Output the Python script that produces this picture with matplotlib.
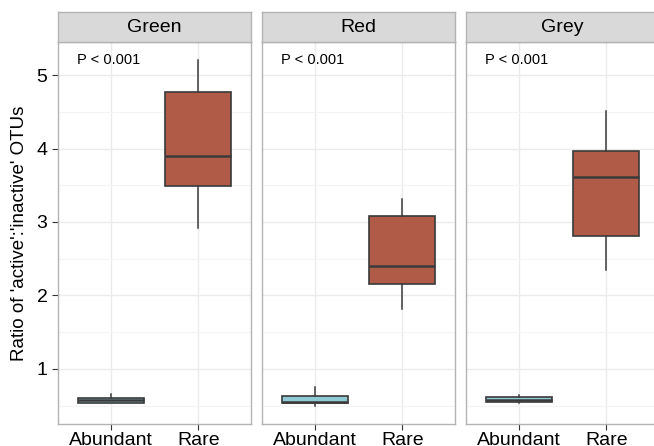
import matplotlib
matplotlib.use('Agg')
import matplotlib.pyplot as plt
from matplotlib.ticker import MultipleLocator

plt.rcParams['font.family'] = ['Liberation Sans', 'DejaVu Sans']

# 每个面板的箱线统计: (whislo, q1, med, q3, whishi)
panels = ["Green", "Red", "Grey"]
groups = ["Abundant", "Rare"]
green_stats = [(0.53, 0.54, 0.57, 0.60, 0.66), (2.92, 3.49, 3.90, 4.77, 5.21)]
red_stats = [(0.50, 0.53, 0.55, 0.63, 0.76), (1.82, 2.15, 2.40, 3.08, 3.31)]
grey_stats = [(0.54, 0.55, 0.57, 0.62, 0.65), (2.35, 2.81, 3.61, 3.96, 4.51)]
p_label = "P < 0.001"

fill_colors = ["#8FC9D3", "#B05B47"]
edge_color = "#3A3A3A"

fig = plt.figure(figsize=(6.54, 4.46), dpi=100)
W, H = 654, 446
lefts = [58, 262, 466]
width = 193
bottom, top = 424, 42
strip_h = 30

for i, (name, stats) in enumerate(zip(panels, [green_stats, red_stats, grey_stats])):
    ax = fig.add_axes([lefts[i] / W, 1 - bottom / H, width / W, (bottom - top) / H])
    bxp = []
    for g, s in zip(groups, stats):
        bxp.append({"whislo": s[0], "q1": s[1], "med": s[2], "q3": s[3],
                    "whishi": s[4], "fliers": [], "label": g})
    bp = ax.bxp(bxp, positions=[1, 2], widths=0.75, patch_artist=True,
                showcaps=False, zorder=3,
                boxprops=dict(edgecolor=edge_color, linewidth=1.2),
                medianprops=dict(color=edge_color, linewidth=1.8),
                whiskerprops=dict(color=edge_color, linewidth=1.1))
    for patch, c in zip(bp["boxes"], fill_colors):
        patch.set_facecolor(c)

    ax.set_xlim(0.4, 2.6)
    ax.set_ylim(0.25, 5.45)
    ax.yaxis.set_major_locator(MultipleLocator(1))
    ax.yaxis.set_minor_locator(MultipleLocator(0.5))
    ax.grid(True, which="major", color="#EBEBEB", linewidth=1.0, zorder=0)
    ax.grid(True, which="minor", axis="y", color="#F4F4F4", linewidth=0.8, zorder=0)
    ax.set_axisbelow(True)
    for sp in ax.spines.values():
        sp.set_color("#B3B3B3")
        sp.set_linewidth(1.0)
    ax.tick_params(axis="both", which="major", length=4, color="#333333",
                   labelsize=14, labelcolor="black")
    ax.tick_params(axis="x", pad=2)
    ax.tick_params(axis="y", which="minor", length=0)
    ax.set_xticks([1, 2])
    ax.set_xticklabels(groups)
    if i > 0:
        ax.tick_params(axis="y", which="both", left=False, labelleft=False)
    else:
        ax.set_ylabel("Ratio of 'active':'inactive' OTUs", fontsize=13.5, labelpad=6)

    ax.text(0.98, 5.2, p_label, ha="center", va="center", fontsize=10.5)

    # 面板标题条
    sax = fig.add_axes([lefts[i] / W, 1 - top / H, width / W, strip_h / H])
    sax.set_facecolor("#D9D9D9")
    sax.set_xticks([])
    sax.set_yticks([])
    for sp in sax.spines.values():
        sp.set_color("#B3B3B3")
        sp.set_linewidth(1.0)
    sax.text(0.5, 0.47, name, ha="center", va="center", fontsize=14,
             transform=sax.transAxes)

fig.savefig("out.png", dpi=100)
